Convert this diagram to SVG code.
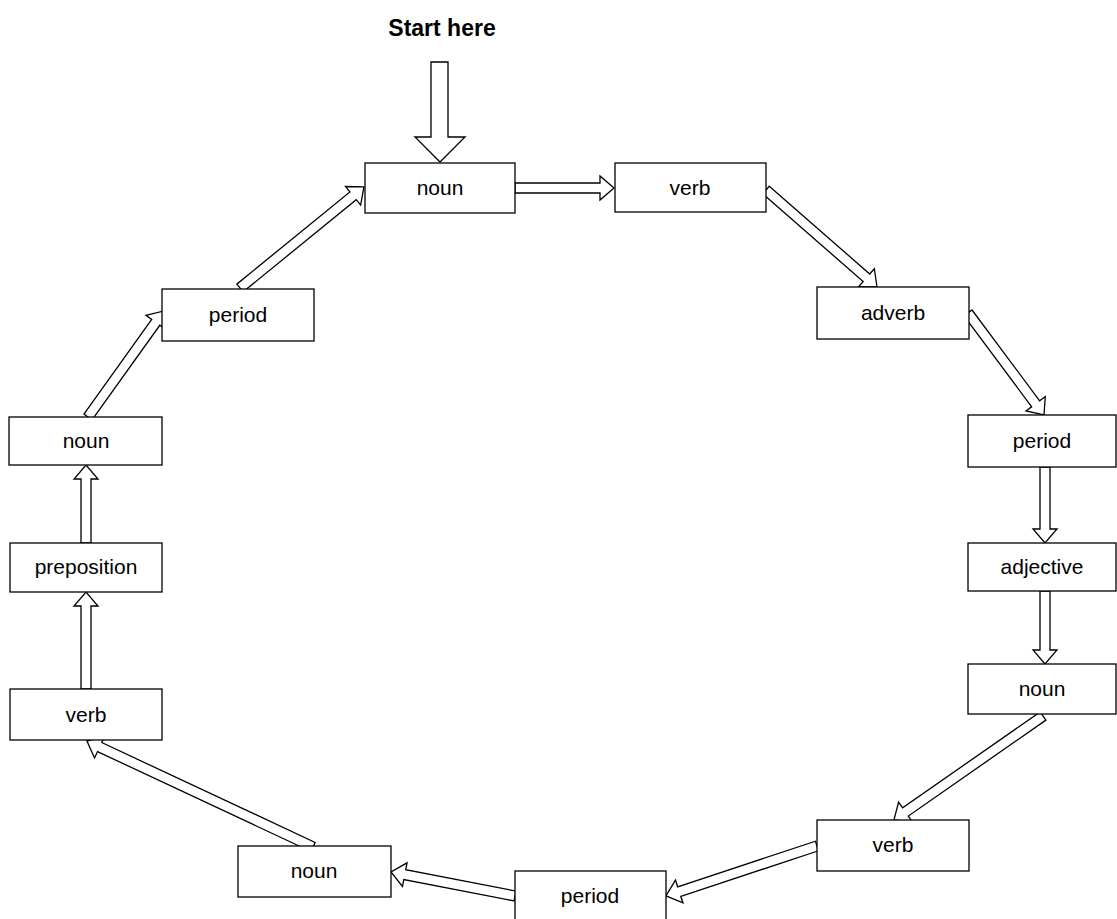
<svg xmlns="http://www.w3.org/2000/svg" width="1117" height="919" viewBox="0 0 1117 919">
<style>
.box{fill:#fff;stroke:#000;stroke-width:1.3}
.lbl{font-family:"Liberation Sans",Arial,sans-serif;font-size:21px;fill:#000;text-anchor:middle}
.arr{fill:#fff;stroke:#000;stroke-width:1.3;stroke-linejoin:miter}
.title{font-family:"Liberation Sans",Arial,sans-serif;font-size:23px;font-weight:bold;fill:#000;text-anchor:middle}
</style>
<rect width="1117" height="919" fill="#fff"/>
<text class="title" x="442" y="36">Start here</text>
<g id="connectors">
<polygon class="arr" points="431,62 448,62 448,137 465,137 440,162 415,137 431,137"/>
<polygon class="arr" transform="translate(515,188) rotate(0)" points="0,-5 85,-5 85,-12 99,0 85,12 85,5 0,5"/>
<polygon class="arr" transform="translate(766,190) rotate(41.15)" points="0,-5 133.4,-5 133.4,-12 147.4,0 133.4,12 133.4,5 0,5"/>
<polygon class="arr" transform="translate(968,313) rotate(53.3)" points="0,-5 113.2,-5 113.2,-12 127.2,0 113.2,12 113.2,5 0,5"/>
<polygon class="arr" transform="translate(1045,467) rotate(90)" points="0,-5 62,-5 62,-12 76,0 62,12 62,5 0,5"/>
<polygon class="arr" transform="translate(1045,591) rotate(90)" points="0,-5 59,-5 59,-12 73,0 59,12 59,5 0,5"/>
<polygon class="arr" transform="translate(1043,716) rotate(145.1)" points="0,-5 167.7,-5 167.7,-12 181.7,0 167.7,12 167.7,5 0,5"/>
<polygon class="arr" transform="translate(817,846) rotate(161.7)" points="0,-5 145.1,-5 145.1,-12 159.1,0 145.1,12 145.1,5 0,5"/>
<polygon class="arr" transform="translate(515,896) rotate(190.95)" points="0,-5 112.3,-5 112.3,-12 126.3,0 112.3,12 112.3,5 0,5"/>
<polygon class="arr" transform="translate(313,847) rotate(205.1)" points="0,-5 235.6,-5 235.6,-12 249.6,0 235.6,12 235.6,5 0,5"/>
<polygon class="arr" transform="translate(86,689) rotate(-90)" points="0,-5 83,-5 83,-12 97,0 83,12 83,5 0,5"/>
<polygon class="arr" transform="translate(86,543) rotate(-90)" points="0,-5 64,-5 64,-12 78,0 64,12 64,5 0,5"/>
<polygon class="arr" transform="translate(88,417) rotate(-54.4)" points="0,-5 116.4,-5 116.4,-12 130.4,0 116.4,12 116.4,5 0,5"/>
<polygon class="arr" transform="translate(240,288) rotate(-39.2)" points="0,-5 145.9,-5 145.9,-12 159.9,0 145.9,12 145.9,5 0,5"/>
</g>
<g id="n1"><rect class="box" x="365" y="163" width="150" height="50"/><text class="lbl" x="440" y="195">noun</text></g>
<g id="n2"><rect class="box" x="615" y="163" width="151" height="49"/><text class="lbl" x="690" y="195">verb</text></g>
<g id="n3"><rect class="box" x="817" y="287" width="152" height="52"/><text class="lbl" x="893" y="320">adverb</text></g>
<g id="n4"><rect class="box" x="968" y="415" width="148" height="52"/><text class="lbl" x="1042" y="448">period</text></g>
<g id="n5"><rect class="box" x="968" y="543" width="148" height="48"/><text class="lbl" x="1042" y="574">adjective</text></g>
<g id="n6"><rect class="box" x="968" y="664" width="148" height="50"/><text class="lbl" x="1042" y="696">noun</text></g>
<g id="n7"><rect class="box" x="817" y="820" width="152" height="51"/><text class="lbl" x="893" y="852">verb</text></g>
<g id="n8"><rect class="box" x="515" y="871" width="151" height="52"/><text class="lbl" x="590" y="903">period</text></g>
<g id="n9"><rect class="box" x="238" y="846" width="153" height="51"/><text class="lbl" x="314" y="878">noun</text></g>
<g id="n10"><rect class="box" x="10" y="689" width="152" height="51"/><text class="lbl" x="86" y="722">verb</text></g>
<g id="n11"><rect class="box" x="10" y="543" width="152" height="49"/><text class="lbl" x="86" y="574">preposition</text></g>
<g id="n12"><rect class="box" x="9" y="417" width="153" height="48"/><text class="lbl" x="86" y="448">noun</text></g>
<g id="n13"><rect class="box" x="162" y="289" width="152" height="52"/><text class="lbl" x="238" y="322">period</text></g>
</svg>
